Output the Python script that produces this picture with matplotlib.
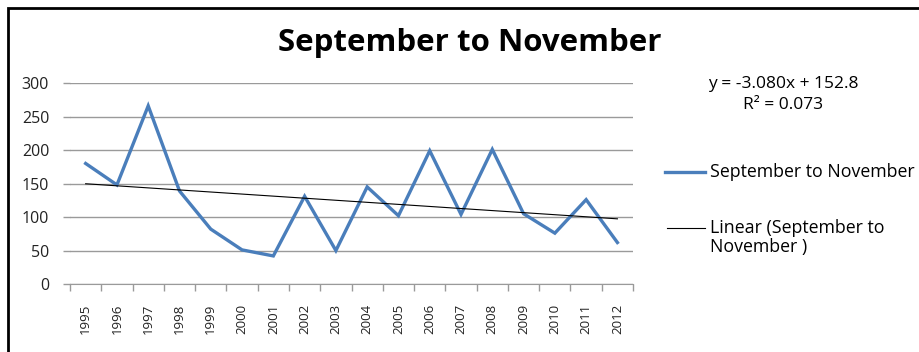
import numpy as np
import matplotlib
matplotlib.use('Agg')
import matplotlib.pyplot as plt
from matplotlib.lines import Line2D
from matplotlib.patches import Rectangle

plt.rcParams['font.family'] = ['Open Sans', 'DejaVu Sans']

# Seasonal totals, September to November
years = ['1995', '1996', '1997', '1998', '1999', '2000', '2001', '2002', '2003',
         '2004', '2005', '2006', '2007', '2008', '2009', '2010', '2011', '2012']
values = [180, 148, 266, 139, 82, 51, 42, 131, 50,
          145, 102, 199, 104, 201, 105, 76, 126, 62]

# Linear trend as reported by the spreadsheet
slope = -3.080
intercept = 152.8
r_squared = 0.073

x = np.arange(1, len(years) + 1)
trend = slope * x + intercept

fig = plt.figure(figsize=(9.2, 3.52), dpi=100)
ax = fig.add_axes([0.0761, 0.193, 0.612, 0.571])

blue = '#4a7ebb'
ax.plot(x, values, color=blue, lw=2.4, solid_joinstyle='miter', zorder=3)
ax.plot(x, trend, color='black', lw=0.8, zorder=4)

ax.set_xlim(0.5, len(years) + 0.5)
ax.set_ylim(0, 300)
ax.set_yticks(range(0, 301, 50))
ax.set_xticks(x)
ax.set_xticklabels(years, rotation=90, fontsize=9.5, color='#222222')
ax.set_xticks(np.arange(0.5, len(years) + 1, 1), minor=True)
ax.tick_params(axis='x', which='major', length=0, pad=14)
ax.tick_params(axis='x', which='minor', length=5, color='#9a9a9a', width=1)
ax.tick_params(axis='y', length=5, color='#9a9a9a', width=1, labelsize=11.5,
               pad=10, labelcolor='#222222')
ax.grid(axis='y', color='#9a9a9a', lw=1)
ax.set_axisbelow(True)
for side in ['top', 'right', 'left']:
    ax.spines[side].set_visible(False)
ax.spines['bottom'].set_color('#9a9a9a')

fig.text(0.511, 0.878, 'September to November', ha='center', va='center',
         fontsize=22.5, fontweight='bold')

# trendline equation
fig.text(0.851, 0.762, 'y = %.3fx + %.1f' % (slope, intercept), ha='center',
         va='center', fontsize=12.5)
fig.text(0.851, 0.703, 'R² = %.3f' % r_squared, ha='center', va='center',
         fontsize=12.5)

# legend entries drawn to the right of the plot
fig.add_artist(Line2D([0.723, 0.766], [0.511, 0.511], color=blue, lw=2.4,
                      transform=fig.transFigure))
fig.text(0.772, 0.511, 'September to November', ha='left', va='center',
         fontsize=12.8)
fig.add_artist(Line2D([0.725, 0.766], [0.352, 0.352], color='black', lw=0.8,
                      transform=fig.transFigure))
fig.text(0.772, 0.352, 'Linear (September to', ha='left', va='center',
         fontsize=12.8)
fig.text(0.772, 0.298, 'November )', ha='left', va='center', fontsize=12.8)

# outer chart frame
fig.add_artist(Rectangle((0.009, -0.05), 1.2, 1.027, transform=fig.transFigure,
                         fill=False, edgecolor='black', lw=2))

fig.savefig('out.png', dpi=100)
